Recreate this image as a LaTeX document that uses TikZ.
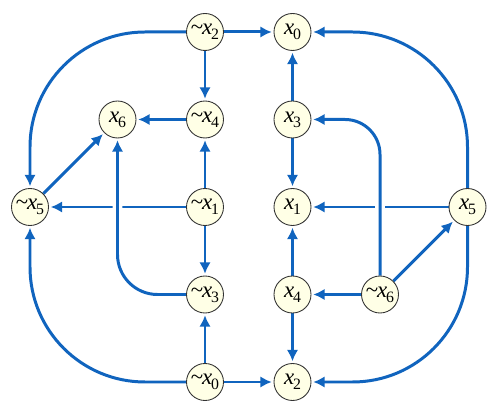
\documentclass[tikz,border=0pt]{standalone}
\usepackage{fontspec}
\setmainfont{Liberation Serif}
\usepackage{tikz}
\usetikzlibrary{positioning}
\usetikzlibrary{backgrounds}
\usetikzlibrary{arrows.meta}

\definecolor{edgeblue}{RGB}{16,100,190}
\definecolor{nodefill}{RGB}{255,255,230}

\newcommand{\lit}[1]{\textit{x}\kern-.05em\raisebox{-0.45ex}{\small #1}}
\newcommand{\nlit}[1]{\textasciitilde\kern-.05em\lit{#1}}

\tikzset{
	var/.style = {circle, draw = black!80, line width = 0.5pt, fill = nodefill, minimum size = 0.74cm, inner sep = 0pt, font = \fontsize{13}{15}\selectfont},
	link/.style = {draw = edgeblue, line width = 1.7pt, -{Latex[length=6.5pt,width=6.5pt]}, shorten > = 1pt},
	hop/.style = {preaction = {draw = white, line width = 5.5pt, -, shorten > = 0pt}}
}

\begin{document}
\begin{tikzpicture}[node distance = 1.75cm, on grid]
		\useasboundingbox (-4.1,-4.1) rectangle (5.9,4.14);
		% middle row
		\node[var] at (0,0) (n1) {\nlit{1}};
		\node[var, left = 3.5cm of n1] (n5) {\nlit{5}};
		\node[var, right = of n1] (p1) {\lit{1}};
		\node[var, right = 3.5cm of p1] (p5) {\lit{5}};
		% upper rows
		\node[var, above = of n1] (n4) {\nlit{4}};
		\node[var, left = of n4] (p6) {\lit{6}};
		\node[var, right = of n4] (p3) {\lit{3}};
		\node[var, above = of n4] (n2) {\nlit{2}};
		\node[var, right = of n2] (p0) {\lit{0}};
		% lower rows
		\node[var, below = of n1] (n3) {\nlit{3}};
		\node[var, right = of n3] (p4) {\lit{4}};
		\node[var, right = of p4] (n6) {\nlit{6}};
		\node[var, below = of n3] (n0) {\nlit{0}};
		\node[var, right = of n0] (p2) {\lit{2}};

		\begin{scope}[on background layer]
			\draw[link] (n2) -- (p0);
			\draw[link] (n2) -- (n4);
			\draw[link, rounded corners = 2.3cm] (n2.west) -| (n5.north);
			\draw[link] (n4) -- (p6);
			\draw[link] (n1) -- (n4);
			\draw[link] (n1) -- (n5);
			\draw[link] (n1) -- (n3);
			\draw[link] (n5) -- (p6);
			\draw[link, hop, rounded corners = 0.8cm] (n3.west) -| (p6.south);
			\draw[link, rounded corners = 2.3cm] (n0.west) -| (n5.south);
			\draw[link] (n0) -- (n3);
			\draw[link] (n0) -- (p2);
			\draw[link] (p3) -- (p0);
			\draw[link] (p3) -- (p1);
			\draw[link] (p5) -- (p1);
			\draw[link, rounded corners = 2.3cm] (p5.north) |- (p0.east);
			\draw[link, rounded corners = 2.3cm] (p5.south) |- (p2.east);
			\draw[link, hop, rounded corners = 0.7cm] (n6.north) |- (p3.east);
			\draw[link] (n6) -- (p5);
			\draw[link] (n6) -- (p4);
			\draw[link] (p4) -- (p1);
			\draw[link] (p4) -- (p2);
		\end{scope}
	\end{tikzpicture}
\end{document}
